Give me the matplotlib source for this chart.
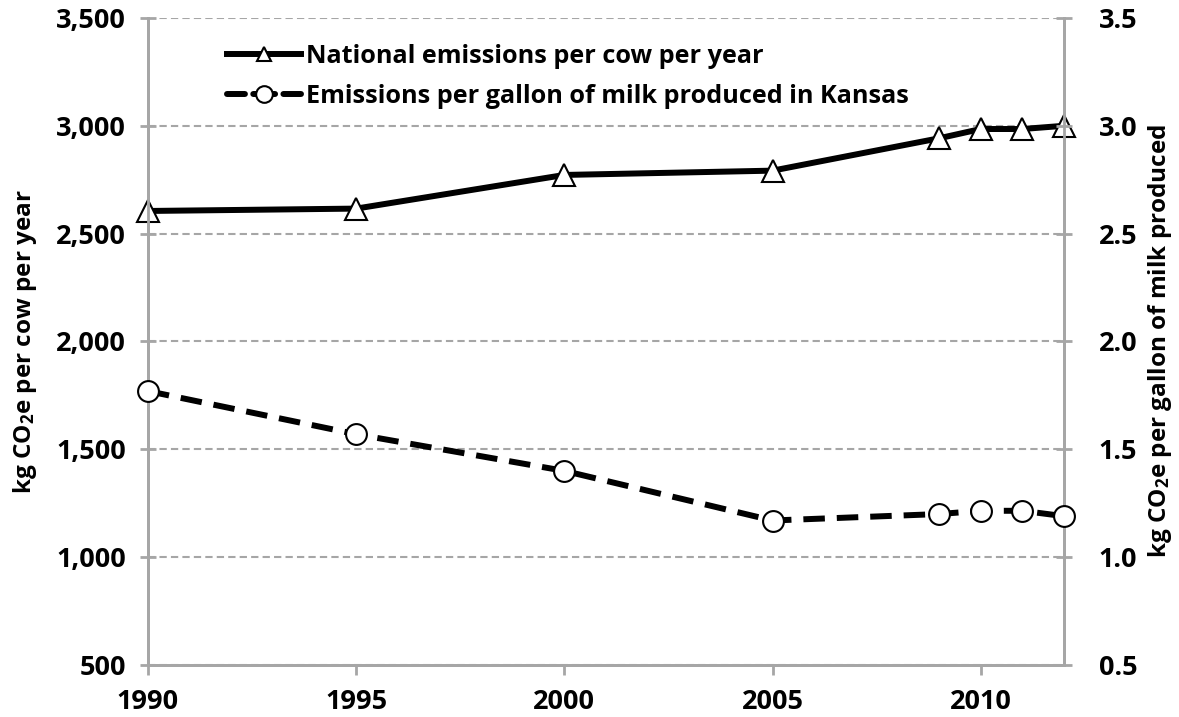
import matplotlib
matplotlib.use("Agg")
import matplotlib.pyplot as plt
from matplotlib.lines import Line2D
from matplotlib.ticker import FuncFormatter

# fontlar
plt.rcParams['font.family'] = ['Open Sans', 'DejaVu Sans']
plt.rcParams['font.weight'] = 'bold'
plt.rcParams['mathtext.fontset'] = 'custom'
plt.rcParams['mathtext.rm'] = 'Open Sans:bold'
plt.rcParams['mathtext.it'] = 'Open Sans:bold'
plt.rcParams['mathtext.default'] = 'regular'

# veriler
years = [1990, 1995, 2000, 2005, 2009, 2010, 2011, 2012]
per_cow = [2605, 2616, 2772, 2792, 2942, 2985, 2985, 3000]
per_gallon = [1.77, 1.57, 1.40, 1.17, 1.20, 1.215, 1.215, 1.19]

x_ticks = [1990, 1995, 2000, 2005, 2010]
left_ticks = [500, 1000, 1500, 2000, 2500, 3000, 3500]
right_ticks = [0.5, 1.0, 1.5, 2.0, 2.5, 3.0, 3.5]

label1 = 'National emissions per cow per year'
label2 = 'Emissions per gallon of milk produced in Kansas'

grey = '#a6a6a6'
dash = (0, (3.6, 2.0))

fig = plt.figure(figsize=(11.79, 7.17), dpi=100)
ax = fig.add_axes([0.1255, 0.0725, 0.777, 0.9025])
ax2 = ax.twinx()

ax.plot(years, per_cow, '-', color='black', lw=4.3, marker='^', ms=15.5,
        mfc='white', mec='black', mew=1.5, clip_on=False, zorder=5)
ax2.plot(years, per_gallon, color='black', lw=4.3, ls=dash,
         marker='o', ms=15, mfc='white', mec='black', mew=1.5,
         clip_on=False, zorder=5)

ax.set_xlim(1990, 2012)
ax.set_ylim(500, 3500)
ax2.set_ylim(0.5, 3.5)
ax.set_xticks(x_ticks)
ax.set_yticks(left_ticks)
ax2.set_yticks(right_ticks)
ax.yaxis.set_major_formatter(FuncFormatter(lambda v, p: f'{int(v):,}'))
ax2.yaxis.set_major_formatter(FuncFormatter(lambda v, p: f'{v:.1f}'))

# grid
ax.grid(axis='y', color=grey, ls=(0, (3.5, 2)), lw=1.5)
ax.set_axisbelow(True)

for a in (ax, ax2):
    a.spines['top'].set_visible(False)
    for s in ('left', 'right', 'bottom'):
        a.spines[s].set_color(grey)
        a.spines[s].set_linewidth(2)

ax.tick_params(axis='y', direction='inout', length=12, width=2, color=grey,
               labelsize=19.5, pad=10)
ax2.tick_params(axis='y', direction='inout', length=12, width=2, color=grey,
                labelsize=19.5, pad=19)
ax.tick_params(axis='x', direction='out', length=7, width=2, color=grey,
               labelsize=19.5, pad=10)

ax.set_ylabel('kg CO$_2$e per cow per year', fontsize=17.5, fontweight='bold', labelpad=12)
ax2.set_ylabel('kg CO$_2$e per gallon of milk produced', fontsize=17.5,
               fontweight='bold', labelpad=6)

# legend: lejant icin ayri (kucuk markerli) cizgiler
h1 = Line2D([], [], color='black', lw=4.3, marker='^', ms=10,
            mfc='white', mec='black', mew=1.5)
h2 = Line2D([], [], color='black', lw=4.3, ls=(0, (3.0, 1.4, 3.65, 1.4)),
            dash_capstyle='round', marker='o', ms=12,
            mfc='white', mec='black', mew=1.5)
ax2.legend(handles=[h1, h2], labels=[label1, label2], loc='upper left',
           bbox_to_anchor=(0.075, 0.976), frameon=False, fontsize=18.2,
           handlelength=2.95, handletextpad=0.2, labelspacing=0.62,
           borderaxespad=0)

fig.savefig('out.png', dpi=100)
